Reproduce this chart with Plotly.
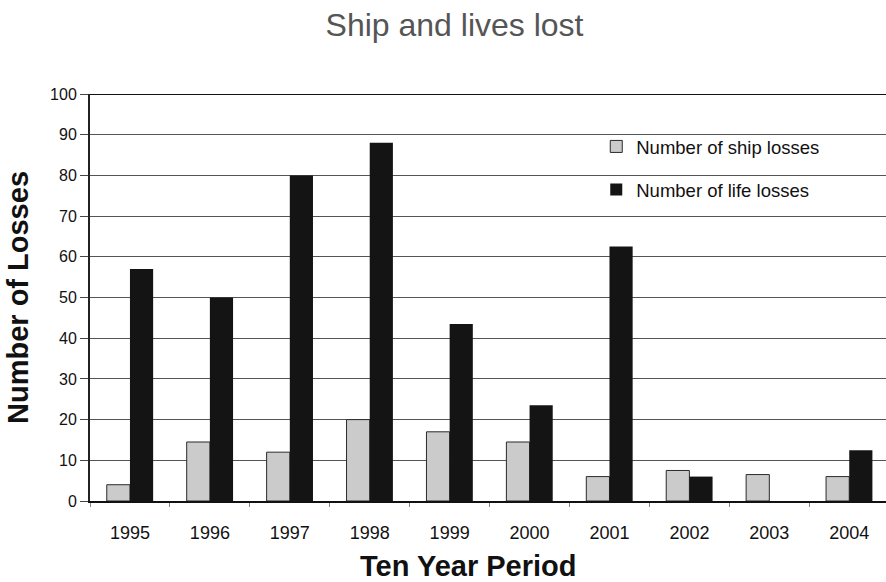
import plotly.graph_objects as go

years = ["1995", "1996", "1997", "1998", "1999", "2000", "2001", "2002", "2003", "2004"]
ship_losses = [4, 14.5, 12, 20, 17, 14.5, 6, 7.5, 6.5, 6]
life_losses = [57, 50, 80, 88, 43.5, 23.5, 62.5, 6, 0, 12.5]
y_ticks = list(range(0, 101, 10))

FONT = "Liberation Sans, Arial, Helvetica, sans-serif"

fig = go.Figure()
fig.add_trace(go.Bar(
    x=years, y=ship_losses, name="Number of ship losses",
    marker=dict(color="#cbcbcb", line=dict(color="#2a2a2a", width=1)),
    legend="legend",
))
fig.add_trace(go.Bar(
    x=years, y=life_losses, name="Number of life losses",
    marker=dict(color="#141414", line=dict(width=0)),
    legend="legend2",
))

legend_style = dict(
    bgcolor="rgba(0,0,0,0)", borderwidth=0, xanchor="left", yanchor="middle",
    font=dict(family=FONT, size=18.5, color="#111"),
    itemwidth=30,
)

fig.update_layout(
    width=886, height=582,
    margin=dict(l=90, r=0, t=94, b=81),
    paper_bgcolor="white", plot_bgcolor="white",
    showlegend=True,
    bargap=0.42, bargroupgap=0,
    barmode="group",
    title=dict(
        text="Ship and lives lost", x=0.513, xanchor="center", y=0.957, yanchor="middle",
        font=dict(family=FONT, size=32, color="#555"),
    ),
    legend=dict(x=0.636, y=0.870, **legend_style),
    legend2=dict(x=0.636, y=0.764, **legend_style),
    xaxis=dict(
        type="category", range=[-0.5, 9.46], tickson="boundaries", ticks="outside", ticklen=4,
        tickcolor="#888", tickwidth=1, ticklabelstandoff=14,
        showline=True, linecolor="#111", linewidth=2, showgrid=False,
        tickfont=dict(family=FONT, size=18, color="#111"),
    ),
    yaxis=dict(
        range=[0, 100], tickvals=y_ticks, ticks="outside", ticklen=8, tickcolor="#444",
        showline=True, linecolor="#222", linewidth=2,
        showgrid=True, gridcolor="#555", gridwidth=1, zeroline=False,
        tickfont=dict(family=FONT, size=16, color="#111"),
        title=dict(text="<b>Number of Losses</b>", standoff=13,
                   font=dict(family=FONT, size=29, color="#111")),
    ),
    annotations=[dict(
        text="<b>Ten Year Period</b>", xref="paper", yref="paper",
        x=0.475, y=-0.160, xanchor="center", yanchor="middle", showarrow=False,
        font=dict(family=FONT, size=29, color="#111"),
    )],
    shapes=[dict(type="line", xref="paper", yref="y", x0=0, x1=1, y0=100, y1=100,
                 line=dict(color="#111", width=2))],
)

fig.write_html("out.html")
